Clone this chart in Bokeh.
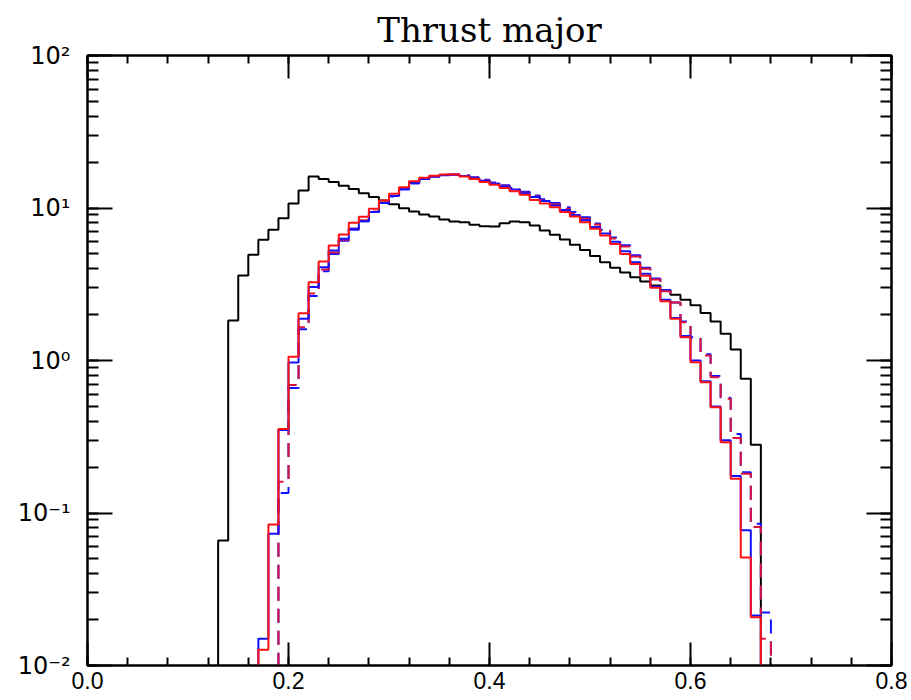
import numpy as np
from bokeh.plotting import figure
from bokeh.models import (LinearAxis, LogAxis, SingleIntervalTicker, LogTicker,
                          PrintfTickFormatter, Range1d, CustomJSTickFormatter)
from bokeh.embed import file_html
from bokeh.resources import INLINE

# ---- data: histogram bins of width 0.01, lower edges 0.12 ... 0.69 ----
bin_width = 0.01
bin_lo = np.round(0.12 + bin_width * np.arange(58), 2)

black_solid = [0, 0.066, 1.83, 3.61, 4.93, 6.19, 7.19, 8.57, 10.7, 13.0,
               16.1, 15.5, 14.8, 14.0, 13.3, 12.5, 11.8, 11.2, 10.6, 9.97,
               9.48, 9.06, 8.80, 8.41, 8.15, 8.07, 7.76, 7.60, 7.56, 7.95,
               8.15, 8.07, 7.68, 7.12, 6.67, 6.21, 5.75, 5.30, 4.85, 4.40,
               4.05, 3.78, 3.52, 3.30, 3.10, 2.90, 2.70, 2.50, 2.30, 2.05,
               1.80, 1.50, 1.18, 0.76, 0.28, 0, 0, 0]

red_solid = [0, 0, 0, 0, 0, 0.0127, 0.084, 0.356, 1.06, 2.04,
             3.26, 4.46, 5.68, 6.70, 8.0, 8.75, 9.9, 11.2, 12.4, 13.7,
             15.0, 15.8, 16.3, 16.6, 16.6, 16.1, 15.5, 14.8, 14.2, 13.5,
             12.9, 12.2, 11.3, 10.7, 10.1, 9.4, 8.8, 8.07, 7.31, 6.6,
             5.8, 5.0, 4.3, 3.6, 3.0, 2.45, 1.88, 1.42, 0.975, 0.72,
             0.494, 0.291, 0.168, 0.051, 0.0207, 0, 0, 0]

blue_solid = [0, 0, 0, 0, 0, 0.015, 0.073, 0.35, 0.97, 1.88,
              3.03, 4.09, 5.26, 6.28, 7.3, 8.2, 9.4, 10.8, 12.0, 13.3,
              14.6, 15.5, 16.1, 16.4, 16.5, 16.2, 15.7, 15.1, 14.5, 13.9,
              13.2, 12.5, 11.8, 11.1, 10.4, 9.7, 9.0, 8.3, 7.5, 6.8,
              6.0, 5.2, 4.4, 3.7, 3.05, 2.5, 1.9, 1.45, 1.0, 0.73,
              0.50, 0.30, 0.175, 0.077, 0.0213, 0, 0, 0]

red_dashed = [0, 0, 0, 0, 0, 0, 0, 0.16, 0.69, 1.65,
              2.75, 3.95, 5.1, 6.2, 7.3, 8.3, 9.5, 10.8, 12.0, 13.3,
              14.6, 15.5, 16.1, 16.5, 16.6, 16.3, 15.8, 15.2, 14.6, 14.0,
              13.3, 12.6, 11.9, 11.2, 10.6, 9.9, 9.2, 8.5, 7.8, 7.1,
              6.3, 5.6, 4.8, 4.0, 3.4, 2.85, 2.4, 1.78, 1.39, 1.08,
              0.778, 0.561, 0.31, 0.181, 0.081, 0.015, 0, 0]

blue_dashed = [0, 0, 0, 0, 0, 0, 0, 0.135, 0.66, 1.6,
               2.65, 3.85, 5.0, 6.1, 7.2, 8.2, 9.4, 10.7, 11.9, 13.2,
               14.5, 15.4, 16.0, 16.5, 16.6, 16.4, 15.9, 15.3, 14.7, 14.1,
               13.5, 12.8, 12.1, 11.4, 10.8, 10.1, 9.4, 8.7, 7.9, 7.2,
               6.4, 5.7, 4.9, 4.05, 3.45, 2.9, 2.4, 1.8, 1.42, 1.1,
               0.79, 0.57, 0.33, 0.185, 0.085, 0.0223, 0, 0]

title_text = "Thrust major"
x_ticks_fmt = "%.1f"
y_tick_values = [0.01, 0.1, 1, 10, 100]
y_tick_labels = ["10\u207b\u00b2", "10\u207b\u00b9", "10\u2070", "10\u00b9", "10\u00b2"]

# ---- figure ----
W, H = 911, 700
FL, FR, FT, FB = 87, 20, 55, 35

p = figure(width=W, height=H, output_backend="svg", toolbar_location=None,
           x_range=Range1d(0.0, 0.8), y_range=Range1d(0.01, 100),
           y_axis_type="log",
           min_border_left=FL, min_border_right=FR,
           min_border_top=FT, min_border_bottom=FB)
p.background_fill_color = "white"
p.border_fill_color = "white"
p.outline_line_color = "black"
p.outline_line_width = 2
p.xgrid.visible = False
p.ygrid.visible = False

p.title.text = title_text
p.title.align = "center"
p.title.text_font = "DejaVu Serif"
p.title.text_font_size = "34px"
p.title.text_font_style = "normal"
p.title.text_color = "black"
p.title.standoff = 12

xticker = SingleIntervalTicker(interval=0.2, num_minor_ticks=5)
yticker = LogTicker(num_minor_ticks=10)
blank = CustomJSTickFormatter(code="return '';")
ylabel_fmt = CustomJSTickFormatter(
    args=dict(vals=y_tick_values, labels=y_tick_labels),
    code="""
const lt = Math.log10(tick);
for (let i = 0; i < vals.length; i++) {
  if (Math.abs(Math.log10(vals[i]) - lt) < 1e-6) return labels[i];
}
return '';
""")


def style_axis(ax, maj_in, min_in, labels):
    ax.axis_line_color = "black"
    ax.axis_line_width = 2
    ax.major_tick_in = maj_in
    ax.major_tick_out = 0
    ax.minor_tick_in = min_in
    ax.minor_tick_out = 0
    ax.major_tick_line_width = 2
    ax.minor_tick_line_width = 2
    ax.major_tick_line_color = "black"
    ax.minor_tick_line_color = "black"
    if not labels:
        ax.formatter = blank
        ax.major_label_standoff = 0


xb = p.xaxis[0]
xb.ticker = xticker
xb.formatter = PrintfTickFormatter(format=x_ticks_fmt)
style_axis(xb, 23, 8, True)
xb.major_label_text_font = "Liberation Sans"
xb.major_label_text_font_size = "23px"
xb.major_label_text_color = "black"
xb.major_label_standoff = 6

yl = p.yaxis[0]
yl.ticker = yticker
style_axis(yl, 25, 11, True)
yl.formatter = ylabel_fmt
yl.major_label_text_font = "DejaVu Sans"
yl.major_label_text_font_size = "24px"
yl.major_label_text_color = "black"
yl.major_label_standoff = 17

xt = LinearAxis(ticker=xticker)
style_axis(xt, 23, 8, False)
p.add_layout(xt, "above")

yr = LogAxis(ticker=yticker)
style_axis(yr, 25, 11, False)
p.add_layout(yr, "right")

# ---- histograms ----
edges = np.append(bin_lo, np.round(bin_lo[-1] + bin_width, 2))
floor = 1e-4


def hist(vals, color, dash, width=2):
    v = np.where(np.asarray(vals, dtype=float) > 0, vals, floor)
    y = np.append(v, v[-1])
    p.step(x=edges, y=y, mode="after", line_color=color, line_width=width,
           line_dash=dash)


hist(black_solid, "black", "solid")
hist(blue_dashed, "#1010ff", "14 8")
hist(red_dashed, "#d8143c", "14 8")
hist(blue_solid, "#1010ff", "solid")
hist(red_solid, "#ff1010", "solid")

open("out.html", "w").write(file_html(p, INLINE))
